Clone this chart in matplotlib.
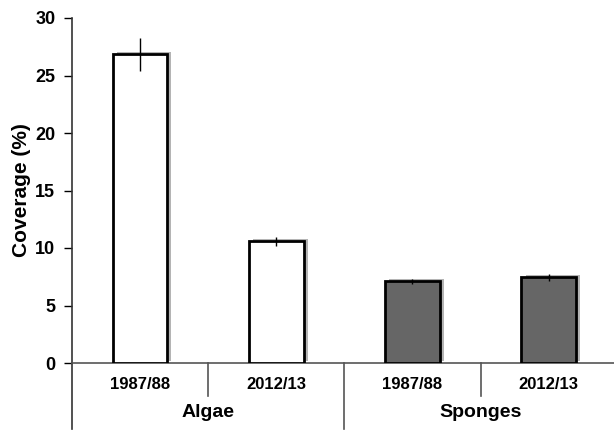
import matplotlib.pyplot as plt
import matplotlib.patheffects as pe

plt.rcParams['font.family'] = ['Liberation Sans', 'DejaVu Sans']
plt.rcParams['font.weight'] = 'bold'

periods = ['1987/88', '2012/13', '1987/88', '2012/13']
groups = ['Algae', 'Sponges']
coverage = [26.85, 10.6, 7.1, 7.45]
errors = [1.45, 0.4, 0.2, 0.3]
fills = ['white', 'white', '#666666', '#666666']


def main():
    fig = plt.figure(figsize=(6.14, 4.32), dpi=100)
    ax = fig.add_axes([72 / 614, 69 / 432, 542 / 614, 345 / 432])

    xs = range(len(coverage))
    bars = ax.bar(xs, coverage, width=0.40, color=fills, edgecolor='black',
                  linewidth=2, zorder=3)
    for b in bars:
        b.set_path_effects([pe.SimplePatchShadow(offset=(3, 1.5), shadow_rgbFace='#777777',
                                                 alpha=0.55), pe.Normal()])
    ax.errorbar(xs, coverage, yerr=errors, fmt='none', ecolor='black',
                elinewidth=1, capsize=0, zorder=4)

    ax.set_xlim(-0.5, 3.48)
    ax.set_ylim(0, 30)
    ax.set_yticks([0, 5, 10, 15, 20, 25, 30])
    ax.tick_params(axis='y', direction='out', length=6, width=1, labelsize=13, pad=6)
    ax.set_xticks(list(xs))
    ax.set_xticklabels(periods, fontsize=12, fontweight='bold')
    ax.tick_params(axis='x', length=0, pad=10)
    for lab in ax.get_yticklabels():
        lab.set_fontweight('bold')

    for side in ['top', 'right']:
        ax.spines[side].set_visible(False)
    ax.spines['left'].set_color('#333333')
    ax.spines['bottom'].set_color('#555555')
    ax.spines['left'].set_linewidth(1.2)
    ax.spines['bottom'].set_linewidth(1.2)

    ax.set_ylabel('Coverage (%)', fontsize=15, fontweight='bold', labelpad=3)

    # y axis continues below zero, group dividers under the axis
    trans = ax.get_xaxis_transform()
    ax.plot([-0.5, -0.5], [0, -0.19], transform=trans, color='#333333', lw=1.2, clip_on=False)
    ax.plot([1.5, 1.5], [0, -0.19], transform=trans, color='#555555', lw=1.2, clip_on=False)
    for x in [0.5, 2.5]:
        ax.plot([x, x], [0, -0.096], transform=trans, color='#555555', lw=1.2, clip_on=False)

    for i, g in enumerate(groups):
        ax.text(2 * i + 0.5, -0.143, g, transform=trans, ha='center', va='center',
                fontsize=14, fontweight='bold')

    fig.savefig('out.png', dpi=100)


if __name__ == "__main__":
    main()
